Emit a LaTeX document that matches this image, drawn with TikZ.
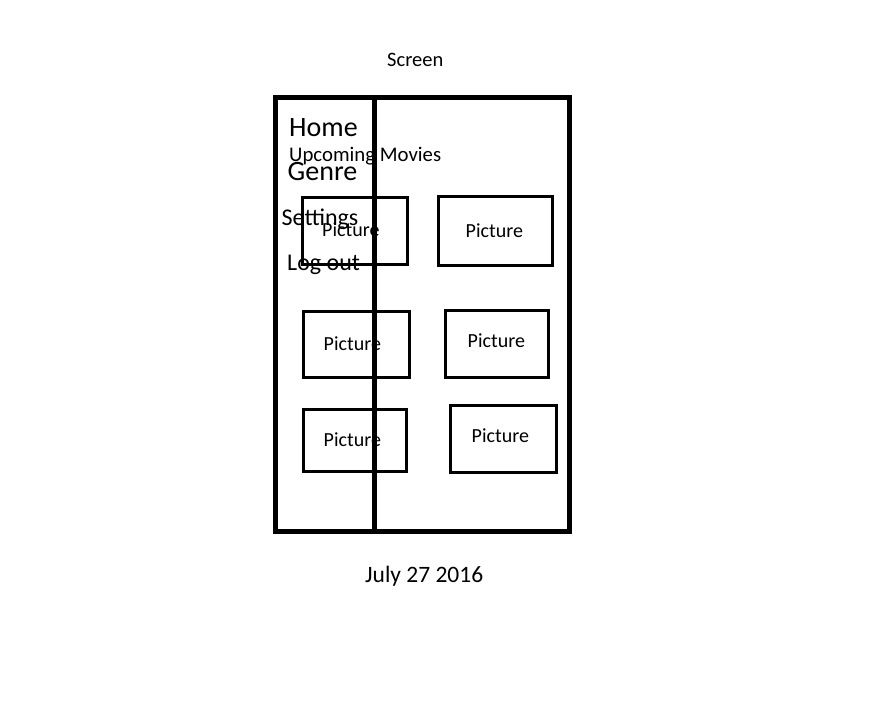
\documentclass[tikz,border=0pt]{standalone}
\usepackage{fontspec}
\setmainfont{Carlito}
\usepackage{tikz}

\begin{document}
\begin{tikzpicture}[x=1pt, y=-1pt, every node/.style={inner sep=0pt, anchor=base west},
                    frame/.style={draw=black, line width=5pt},
                    picbox/.style={draw=black, line width=3pt},
                    pictext/.style={font=\fontsize{20}{24}\selectfont},
                    bigmenu/.style={font=\fontsize{28}{32}\selectfont},
                    midmenu/.style={font=\fontsize{24}{28}\selectfont}]
\useasboundingbox[fill=white] (0,0) rectangle (891,705);

\node[font=\fontsize{20.5}{24}\selectfont] (title) at (387,66) {Screen};

% screen frame and menu divider
\draw[frame] (275,97.5) rectangle (569.5,531.5);
\draw[frame] (374.5,97.5) -- (374.5,531.5);

% picture boxes
\draw[picbox] (302,197) rectangle (407.5,264);
\draw[picbox] (438,196) rectangle (552.5,265);
\draw[picbox] (303.5,311) rectangle (409.5,377.5);
\draw[picbox] (445,310) rectangle (548.5,377.5);
\draw[picbox] (303,409) rectangle (406.5,471);
\draw[picbox] (450,405) rectangle (556,472.5);

\node[pictext] (pic1) at (322,236) {Picture};
\node[pictext] (pic2) at (465.5,237) {Picture};
\node[pictext] (pic3) at (323.5,350) {Picture};
\node[pictext] (pic4) at (467.5,347) {Picture};
\node[pictext] (pic5) at (323.5,446) {Picture};
\node[pictext] (pic6) at (471.5,442) {Picture};

% menu
\node[bigmenu] (home) at (289,136) {Home};
\node[font=\fontsize{20.8}{24}\selectfont] (upcoming) at (289,161.5) {Upcoming Movies};
\node[bigmenu] (genre) at (287.5,180) {Genre};
\node[midmenu] (settings) at (281.5,225) {Settings};
\node[midmenu] (logout) at (287,270) {Log out};

\node[font=\fontsize{23.5}{28}\selectfont] (date) at (365,582) {July 27 2016};
\end{tikzpicture}
\end{document}
